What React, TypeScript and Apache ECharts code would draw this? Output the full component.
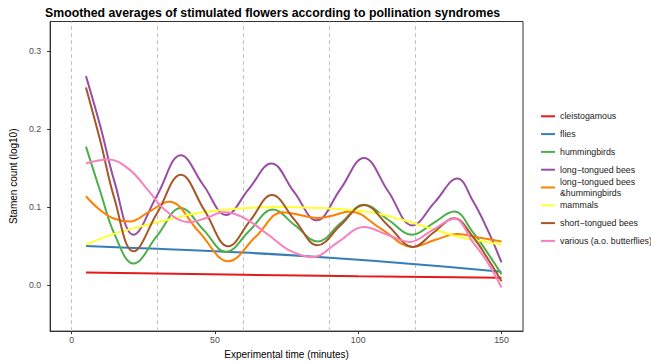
import React, { useEffect, useRef } from "react";
import * as echarts from "echarts";

const TITLE = "Smoothed averages of stimulated flowers according to pollination syndromes";
const X_NAME = "Experimental time (minutes)";
const Y_NAME = "Stamen count (log10)";
const X_TICKS = [0, 50, 100, 150];
const Y_TICKS = [0, 0.1, 0.2, 0.3];
const V_LINES = [0, 30, 60, 90, 120];

const NAMES = [
  "cleistogamous",
  "flies",
  "hummingbirds",
  "long−tongued bees",
  "long−tongued bees\n&hummingbirds",
  "mammals",
  "short−tongued bees",
  "various (a.o. butterflies)",
];
const COLORS = ["#E41A1C", "#377EB8", "#4DAF4A", "#984EA3", "#FF7F00", "#FFFF33", "#A65628", "#F781BF"];

// cleistogamous
const redT = [5, 60, 100, 150];
const redV = [0.0162, 0.0132, 0.0112, 0.0094];
// flies
const blueT = [5, 30, 60, 90, 120, 150];
const blueV = [0.05, 0.0465, 0.0417, 0.035, 0.0268, 0.017];
// hummingbirds
const greenT = [5, 10, 15, 21.6, 29.85, 38.1, 46, 53.9, 62.05, 70.2, 78, 85.8, 93.9, 102, 110.45, 118.9, 126.2, 133.5, 140, 145, 150];
const greenV = [0.1776, 0.12, 0.065, 0.0276, 0.0633, 0.099, 0.0708, 0.0425, 0.0697, 0.0968, 0.0764, 0.056, 0.0795, 0.103, 0.0838, 0.0646, 0.0795, 0.0943, 0.068, 0.042, 0.014];
// long-tongued bees
const purpleT = [5, 10, 15, 21.6, 29.9, 38.1, 46, 53.9, 61.8, 69.7, 77.6, 85.5, 93.8, 102, 110.5, 118.9, 126.8, 134.6, 140, 145, 150];
const purpleV = [0.268, 0.204, 0.132, 0.0646, 0.1156, 0.1665, 0.128, 0.09, 0.123, 0.156, 0.1195, 0.083, 0.123, 0.163, 0.12, 0.0765, 0.1067, 0.1368, 0.108, 0.072, 0.029];
// long-tongued bees & hummingbirds
const orangeT = [5, 10, 15, 20.2, 27.1, 34, 44.35, 54.7, 64.2, 73.7, 80, 85.5, 91, 97, 108, 118.9, 126.75, 134.6, 142, 150];
const orangeV = [0.1139, 0.096, 0.085, 0.0815, 0.0943, 0.107, 0.0688, 0.0306, 0.062, 0.0935, 0.0895, 0.086, 0.089, 0.0945, 0.0722, 0.049, 0.0578, 0.0655, 0.061, 0.056];
// mammals
const yellowT = [5, 15, 25, 35, 45, 55, 65, 75, 85, 95, 105, 115, 125, 135, 145, 150];
const yellowV = [0.052, 0.066, 0.076, 0.085, 0.093, 0.097, 0.0995, 0.1, 0.099, 0.097, 0.093, 0.084, 0.073, 0.062, 0.055, 0.052];
// short-tongued bees
const brownT = [5, 10, 15, 21.6, 29.85, 38.1, 46.4, 54.7, 62.3, 69.9, 77.85, 85.8, 93.9, 102, 110.55, 119.1, 126.3, 133.5, 140, 145, 150];
const brownV = [0.2535, 0.185, 0.11, 0.0433, 0.0924, 0.1414, 0.0956, 0.0497, 0.0826, 0.1155, 0.0833, 0.051, 0.0769, 0.1028, 0.0759, 0.0489, 0.0674, 0.0858, 0.062, 0.035, 0.005];
// various (a.o. butterflies)
const pinkT = [5, 12.8, 20, 26.85, 33, 40.9, 47, 53, 60, 68.5, 76, 84, 93, 102, 110, 118, 125.75, 133.5, 140, 145, 150];
const pinkV = [0.156, 0.161, 0.1487, 0.1208, 0.095, 0.0807, 0.086, 0.0935, 0.0866, 0.0648, 0.0444, 0.036, 0.0552, 0.0744, 0.0649, 0.0553, 0.0702, 0.085, 0.055, 0.03, -0.003];

const SERIES_T = [redT, blueT, greenT, purpleT, orangeT, yellowT, brownT, pinkT];
const SERIES_V = [redV, blueV, greenV, purpleV, orangeV, yellowV, brownV, pinkV];

const FONT = "'Liberation Sans', Arial, Helvetica, sans-serif";

export default function App() {
  const ref = useRef<HTMLDivElement>(null);
  useEffect(() => {
    if (!ref.current) return;
    const chart = echarts.init(ref.current, undefined, { renderer: "svg" });
    const legendText = { fontSize: 8.8, lineHeight: 10.8, color: "#1a1a1a", fontFamily: FONT };
    const legendBase = {
      orient: "vertical",
      left: 541,
      itemGap: 7,
      itemWidth: 14,
      itemHeight: 2,
      icon: "rect",
      padding: 0,
      textStyle: legendText,
      selectedMode: false,
    };
    const series: any[] = NAMES.map((name, i) => ({
      name,
      type: "line",
      data: SERIES_T[i].map((t, k) => [t, SERIES_V[i][k]]),
      smooth: 0.4,
      symbol: "none",
      showSymbol: false,
      color: COLORS[i],
      itemStyle: { color: COLORS[i] },
      lineStyle: { width: 2, color: COLORS[i] },
      z: 3,
      ...(i === 0
        ? {
            markLine: {
              silent: true,
              symbol: ["none", "none"],
              label: { show: false },
              lineStyle: { type: [4, 3], color: "#c4c4c4", width: 1 },
              data: V_LINES.map((v) => ({ xAxis: v })),
              z: 1,
            },
          }
        : {}),
    }));
    chart.setOption({
      animation: false,
      textStyle: { fontFamily: FONT },
      graphic: [
        {
          type: "text",
          x: 45,
          y: 12.5,
          style: {
            text: TITLE,
            font: `bold 12.3px ${FONT}`,
            fill: "#000",
            textAlign: "left",
            textVerticalAlign: "middle",
          },
        },
      ],
      grid: {
        left: 45,
        right: 128,
        top: 21.5,
        bottom: 31,
        show: true,
        borderColor: "#333",
        borderWidth: 1,
        backgroundColor: "#fff",
      },
      xAxis: {
        type: "value",
        min: -7.5,
        max: 157.5,
        name: X_NAME,
        nameLocation: "middle",
        nameGap: 14,
        nameTextStyle: { fontSize: 10, color: "#000", fontFamily: FONT },
        axisLine: { show: true, onZero: false, lineStyle: { color: "#333" } },
        axisTick: { show: true, length: 3, customValues: X_TICKS, lineStyle: { color: "#333" } },
        axisLabel: { customValues: X_TICKS, margin: 4, fontSize: 8.8, color: "#4d4d4d", fontFamily: FONT },
        splitLine: { show: false },
      },
      yAxis: {
        type: "value",
        min: -0.059,
        max: 0.338,
        name: Y_NAME,
        nameLocation: "middle",
        nameGap: 23,
        nameTextStyle: { fontSize: 10, color: "#000", fontFamily: FONT },
        axisLine: { show: true, onZero: false, lineStyle: { color: "#333" } },
        axisTick: { show: true, length: 3, customValues: Y_TICKS, lineStyle: { color: "#333" } },
        axisLabel: {
          customValues: Y_TICKS,
          margin: 9,
          fontSize: 8.8,
          color: "#4d4d4d",
          fontFamily: FONT,
          formatter: (v: number) => v.toFixed(1),
        },
        splitLine: { show: false },
      },
      legend: [
        { ...legendBase, top: 110.9, data: NAMES.slice(0, 4) },
        { ...legendBase, top: 176.7, data: NAMES.slice(4, 5) },
        { ...legendBase, top: 199.9, data: NAMES.slice(5) },
      ],
      series,
    });
    return () => chart.dispose();
  }, []);
  return (
    <div
      ref={ref}
      style={{ position: "fixed", left: 0, top: 0, width: 651, height: 364, background: "#fff" }}
    />
  );
}
